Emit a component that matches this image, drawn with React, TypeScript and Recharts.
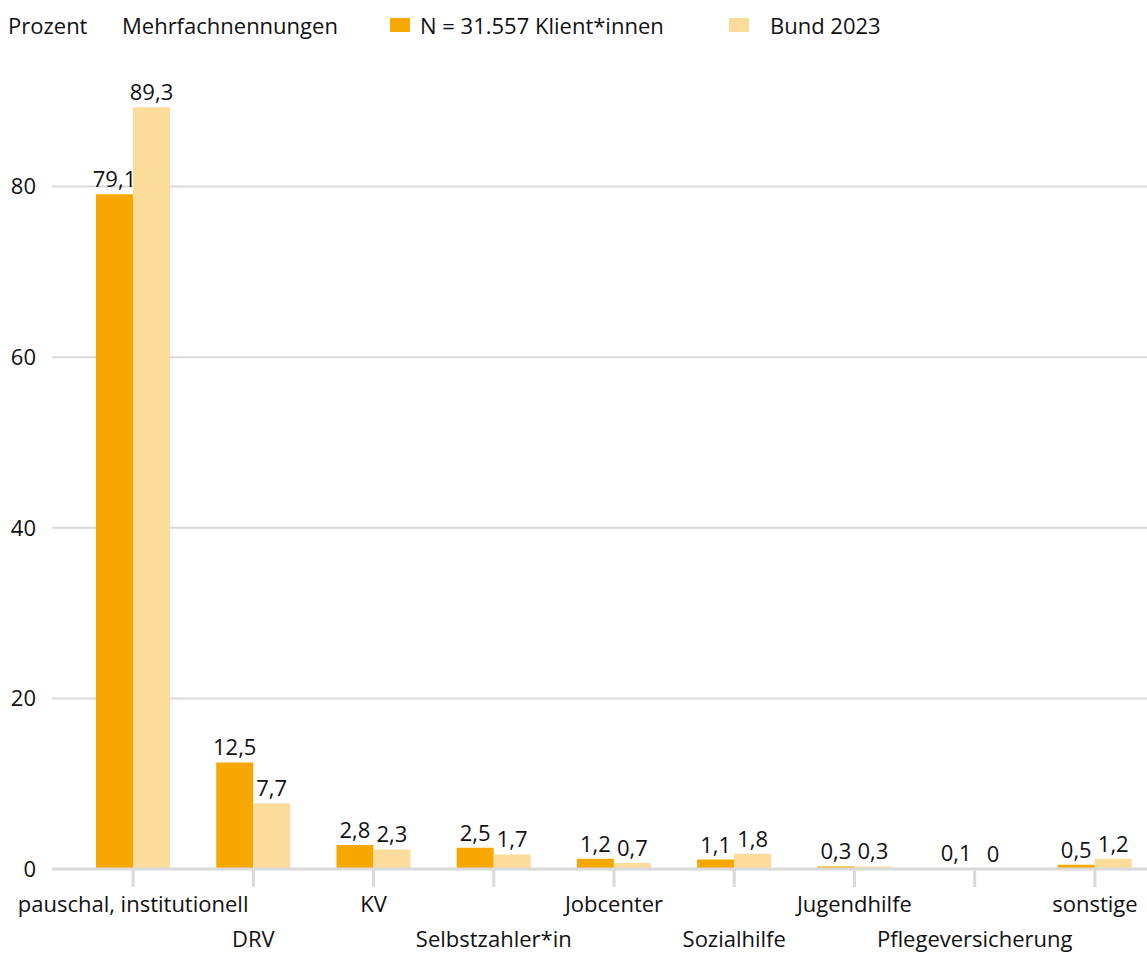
import React from 'react'
import { BarChart, Bar, XAxis, YAxis, CartesianGrid, LabelList } from 'recharts'

// Finanzierung der Leistungen, Mehrfachnennungen
const categories = [
  'pauschal, institutionell',
  'DRV',
  'KV',
  'Selbstzahler*in',
  'Jobcenter',
  'Sozialhilfe',
  'Jugendhilfe',
  'Pflegeversicherung',
  'sonstige',
]
const klientValues = [79.1, 12.5, 2.8, 2.5, 1.2, 1.1, 0.3, 0.1, 0.5]
const bundValues = [89.3, 7.7, 2.3, 1.7, 0.7, 1.8, 0.3, 0, 1.2]
const yTicks = [0, 20, 40, 60, 80]

const ORANGE = '#F7A800'
const LIGHT = '#FBDC9B'
const GRID = '#d9d9d9'
const FONT = '"Open Sans", "Noto Sans", sans-serif'
const FS = 22

const data = categories.map((name, i) => ({
  name,
  klient: klientValues[i],
  bund: bundValues[i],
}))

const fmt = (v: number) => String(v).replace('.', ',')

// zero-height bars otherwise get no label
const minSize = (v: any) => (Number(v) === 0 ? 0.01 : 0)

function CategoryTick({ x, y, payload, index }: any) {
  const dy = index % 2 === 0 ? 23 : 58
  return (
    <text x={x} y={y + dy} textAnchor="middle" fontSize={FS} fill="#111" fontFamily={FONT}>
      {payload.value}
    </text>
  )
}

function ValueLabel({ x, y, width, value }: any) {
  if (value == null) return null
  return (
    <text
      x={Number(x) + Number(width) / 2}
      y={Number(y) - 7}
      textAnchor="middle"
      fontSize={FS}
      fill="#111"
      fontFamily={FONT}
    >
      {fmt(value)}
    </text>
  )
}

function LegendHead() {
  const text: React.CSSProperties = {
    position: 'absolute',
    top: 10,
    fontSize: FS,
    lineHeight: '30px',
    color: '#111',
    fontFamily: FONT,
    whiteSpace: 'nowrap',
  }
  const sq = (left: number, color: string): React.CSSProperties => ({
    position: 'absolute',
    left,
    top: 18,
    width: 20,
    height: 14,
    background: color,
  })
  return (
    <>
      <div style={{ ...text, left: 8 }}>Prozent</div>
      <div style={{ ...text, left: 122 }}>Mehrfachnennungen</div>
      <div style={sq(390, ORANGE)} />
      <div style={{ ...text, left: 420 }}>N = 31.557 Klient*innen</div>
      <div style={sq(729, LIGHT)} />
      <div style={{ ...text, left: 770 }}>Bund 2023</div>
    </>
  )
}

export default function App() {
  return (
    <div
      style={{
        position: 'absolute',
        left: 0,
        top: 0,
        width: 1147,
        height: 954,
        overflow: 'hidden',
        background: '#fff',
      }}
    >
      <BarChart
        width={1155}
        height={954}
        data={data}
        margin={{ top: 16, right: 0, left: 0, bottom: 0 }}
        barSize={37}
        barGap={0}
      >
        <CartesianGrid
          vertical={false}
          horizontal
          horizontalValues={yTicks}
          stroke={GRID}
          strokeWidth={2}
        />
        <XAxis
          dataKey="name"
          interval={0}
          padding={{ left: 21, right: 0 }}
          axisLine={{ stroke: GRID, strokeWidth: 3 }}
          tickLine={{ stroke: GRID, strokeWidth: 3 }}
          tickSize={18}
          tick={<CategoryTick />}
          height={85}
        />
        <YAxis
          domain={[0, 100]}
          ticks={yTicks}
          width={52}
          axisLine={false}
          tickLine={false}
          tickSize={0}
          tickMargin={16}
          tick={{ fontSize: FS, fill: '#111', fontFamily: FONT }}
        />
        <Bar dataKey="klient" fill={ORANGE} isAnimationActive={false}>
          <LabelList dataKey="klient" content={<ValueLabel />} />
        </Bar>
        <Bar dataKey="bund" fill={LIGHT} minPointSize={minSize} isAnimationActive={false}>
          <LabelList dataKey="bund" content={<ValueLabel />} />
        </Bar>
      </BarChart>
      <LegendHead />
    </div>
  )
}
